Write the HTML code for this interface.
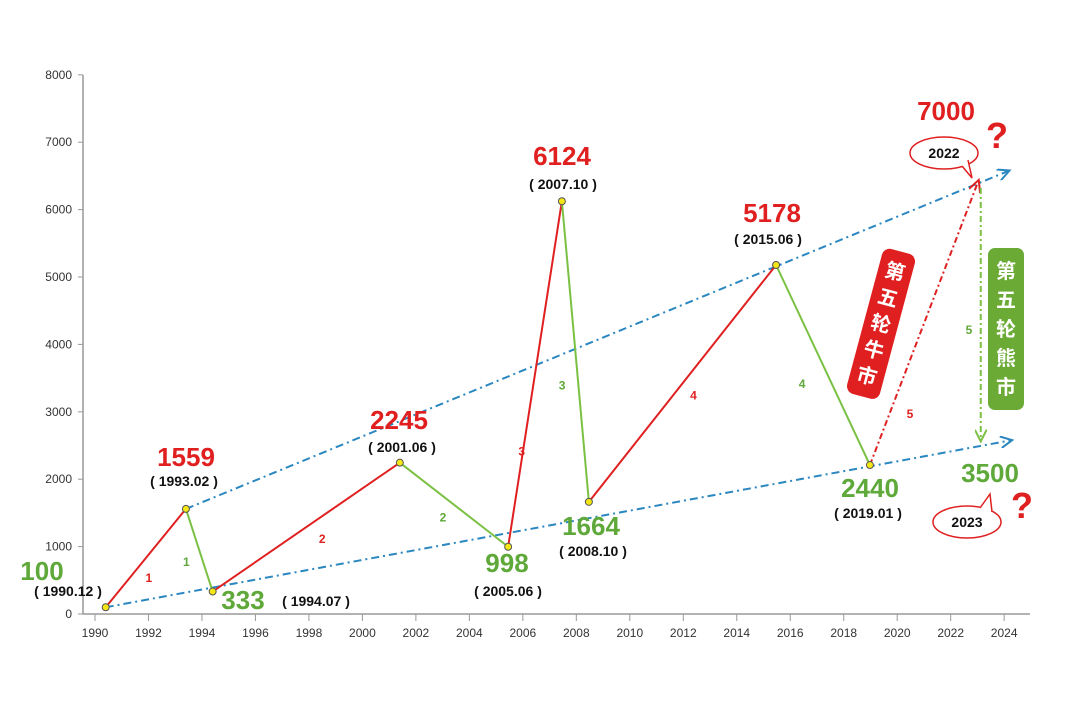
<!DOCTYPE html>
<html><head><meta charset="utf-8"><style>
body{margin:0;background:#fff;}
svg text{font-family:"Liberation Sans","Noto Sans CJK SC",sans-serif;}
</style></head><body>
<svg id="chart" width="1080" height="718" viewBox="0 0 1080 718" xmlns="http://www.w3.org/2000/svg">
<defs>
<marker id="ab" markerWidth="14" markerHeight="12" refX="12" refY="6" orient="auto" markerUnits="userSpaceOnUse"><path d="M0,0 L12,6 L0,12" fill="none" stroke="#2a87c0" stroke-width="2"/></marker>
<marker id="ar" markerWidth="14" markerHeight="12" refX="12" refY="6" orient="auto" markerUnits="userSpaceOnUse"><path d="M0,0 L12,6 L0,12" fill="none" stroke="#e02020" stroke-width="2"/></marker>
<marker id="ag" markerWidth="14" markerHeight="12" refX="12" refY="6" orient="auto" markerUnits="userSpaceOnUse"><path d="M0,0 L12,6 L0,12" fill="none" stroke="#7ac143" stroke-width="2"/></marker>
</defs>
<g id="axes"></g>
<g id="marks"></g>
<g id="labels"></g>
</svg>
<script>
const yTicks=[0,1000,2000,3000,4000,5000,6000,7000,8000];
const xTicks=[1990,1992,1994,1996,1998,2000,2002,2004,2006,2008,2010,2012,2014,2016,2018,2020,2022,2024];
const pointYears=[1990.4,1993.4,1994.4,2001.4,2005.45,2007.46,2008.47,2015.47,2018.98];
const pointValues=[100,1559,333,2245,998,6124,1664,5178,2210];
const valueLabels=["100","1559","333","2245","998","6124","1664","5178","2440"];
const dateLabels=["( 1990.12 )","( 1993.02 )","( 1994.07 )","( 2001.06 )","( 2005.06 )","( 2007.10 )","( 2008.10 )","( 2015.06 )","( 2019.01 )"];
const bullTarget=[2023.05,6440];
const bearTarget=[2023.05,2560];
const upperTrend=[[1993.4,1559],[2024.2,6580]];
const lowerTrend=[[1990.4,100],[2024.3,2580]];

const X=y=>95+(y-1990)*26.74;
const Y=v=>614-v*0.0674;
const NS="http://www.w3.org/2000/svg";
function mk(parent,tag,attrs,text){const e=document.createElementNS(NS,tag);for(const k in attrs)e.setAttribute(k,attrs[k]);if(text!==undefined)e.textContent=text;document.getElementById(parent).appendChild(e);return e;}
const RED="#e02020",GRN="#5fa83a",LGRN="#7ac143",BLUE="#2a87c0";

let e=mk('axes','line',{x1:83,y1:614,x2:1030,y2:614,stroke:'#999','stroke-width':1.5});

e=mk('axes','line',{x1:83,y1:75,x2:83,y2:614,stroke:'#999','stroke-width':1.5});

yTicks.forEach(t=>{
  mk('axes','line',{x1:78,y1:Y(t),x2:83,y2:Y(t),stroke:'#999'});
  const l=mk('axes','text',{x:72,y:Y(t)+4,'text-anchor':'end','font-size':12,fill:'#333'},t);
  
});
xTicks.forEach(t=>{
  mk('axes','line',{x1:X(t),y1:614,x2:X(t),y2:621,stroke:'#999'});
  const l=mk('axes','text',{x:X(t),y:637,'text-anchor':'middle','font-size':12,fill:'#333'},t);
  
});

e=mk('marks','line',{x1:X(upperTrend[0][0]),y1:Y(upperTrend[0][1]),x2:X(upperTrend[1][0]),y2:Y(upperTrend[1][1]),stroke:BLUE,'stroke-width':2,'stroke-dasharray':'8,4,2,4','marker-end':'url(#ab)'});

e=mk('marks','line',{x1:X(lowerTrend[0][0]),y1:Y(lowerTrend[0][1]),x2:X(lowerTrend[1][0]),y2:Y(lowerTrend[1][1]),stroke:BLUE,'stroke-width':2,'stroke-dasharray':'8,4,2,4','marker-end':'url(#ab)'});


// label placement along segment: [fraction, dx, dy]
const numPlace=[[0.5,3,20],[0.5,-13,12],[0.5,16,12],[0.5,-11,13],[0.29,-2,5],[0.6,-16,4],[0.5,11,12],[0.575,-28,4]];
for(let i=0;i<pointYears.length-1;i++){
  const up=pointValues[i+1]>pointValues[i];
  const x1=X(pointYears[i]),y1=Y(pointValues[i]),x2=X(pointYears[i+1]),y2=Y(pointValues[i+1]);
  const s=mk('marks','line',{x1:x1,y1:y1,x2:x2,y2:y2,stroke:up?RED:LGRN,'stroke-width':2});
  
  const n=Math.floor(i/2)+1;
  const p=numPlace[i];
  const mx=x1+(x2-x1)*p[0], my=y1+(y2-y1)*p[0];
  const t=mk('labels','text',{x:mx+p[1],y:my+p[2]+4,'font-size':12,'font-weight':'bold',fill:up?RED:GRN,'text-anchor':'middle'},n);
  
}
const last=pointYears.length-1;
e=mk('marks','line',{x1:X(pointYears[last]),y1:Y(pointValues[last]),x2:X(bullTarget[0]),y2:Y(bullTarget[1]),stroke:RED,'stroke-width':2,'stroke-dasharray':'6,3,2,3','marker-end':'url(#ar)'});

e=mk('marks','line',{x1:X(bullTarget[0])+2,y1:Y(bullTarget[1])+8,x2:X(bearTarget[0])+2,y2:Y(bearTarget[1]),stroke:LGRN,'stroke-width':2,'stroke-dasharray':'6,3,2,3','marker-end':'url(#ag)'});

mk('labels','text',{x:910,y:418,'font-size':12,'font-weight':'bold',fill:RED,'text-anchor':'middle'},'5');
mk('labels','text',{x:969,y:334,'font-size':12,'font-weight':'bold',fill:GRN,'text-anchor':'middle'},'5');

pointYears.forEach((y,i)=>{
  const c=mk('marks','circle',{cx:X(y),cy:Y(pointValues[i]),r:3.5,fill:'#f5e616',stroke:'#555','stroke-width':1});
  
});

const lp=[[42,580,68,596],[186,466,184,486],[243,609,316,606],[399,429,402,452],[507,572,508,596],[562,165,563,189],[591,535,593,556],[772,222,768,244],[870,497,868,518]];
valueLabels.forEach((v,i)=>{
  const up=i%2===1;
  const p=lp[i];
  const t=mk('labels','text',{x:p[0],y:p[1],'text-anchor':'middle','font-size':26,'font-weight':'bold',fill:up?RED:GRN},v);
  
  const d=mk('labels','text',{x:p[2],y:p[3],'text-anchor':'middle','font-size':14,'font-weight':'bold',fill:'#111'},dateLabels[i]);
  
});

function bubble(cx,cy,txt,tail){
  mk('labels','ellipse',{cx:cx,cy:cy,rx:34,ry:16,fill:'#fff',stroke:RED,'stroke-width':1.5});
  mk('labels','path',{d:tail,fill:'#fff',stroke:RED,'stroke-width':1.5});
  const t=mk('labels','text',{x:cx,y:cy+5,'text-anchor':'middle','font-size':14,'font-weight':'bold',fill:'#111'},txt);
  
}
e=mk('labels','text',{x:946,y:120,'text-anchor':'middle','font-size':26,'font-weight':'bold',fill:RED},'7000');

bubble(944,153,'2022','M962,166 L972,178 L968,160');
mk('labels','text',{x:997,y:148,'text-anchor':'middle','font-size':36,'font-weight':'bold',fill:RED},'?');
e=mk('labels','text',{x:990,y:482,'text-anchor':'middle','font-size':26,'font-weight':'bold',fill:GRN},'3500');

bubble(967,522,'2023','M980,508 L990,494 L992,512');
mk('labels','text',{x:1022,y:518,'text-anchor':'middle','font-size':36,'font-weight':'bold',fill:RED},'?');

e=mk('labels','rect',{x:0,y:0,width:34,height:150,rx:8,fill:RED,transform:'translate(884,247) rotate(15)'});

['第','五','轮','牛','市'].forEach((c,i)=>{
  mk('labels','text',{x:17,y:28+i*27,'text-anchor':'middle','font-size':20,'font-weight':'bold',fill:'#fff',transform:'translate(884,247) rotate(15)'},c);
});
e=mk('labels','rect',{x:988,y:248,width:36,height:162,rx:7,fill:'#6aaa35'});

['第','五','轮','熊','市'].forEach((c,i)=>{
  mk('labels','text',{x:1006,y:278+i*29,'text-anchor':'middle','font-size':20,'font-weight':'bold',fill:'#fff'},c);
});
</script>
</body></html>
